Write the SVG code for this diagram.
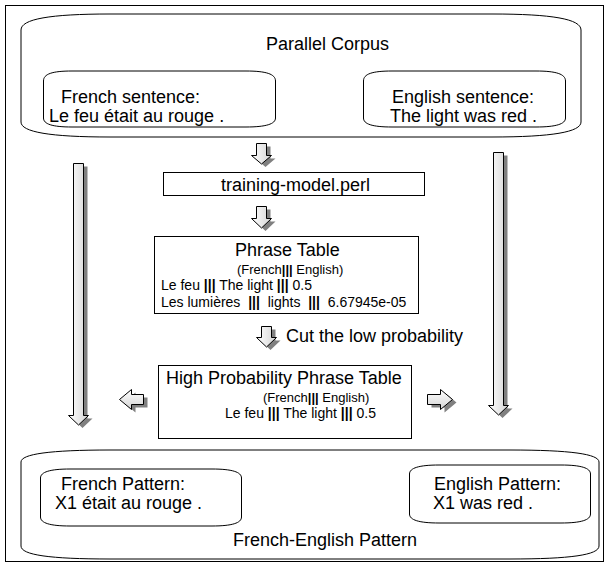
<svg xmlns="http://www.w3.org/2000/svg" width="609" height="568" viewBox="0 0 609 568">
<defs>
<linearGradient id="gv" x1="0" y1="0" x2="1" y2="0">
<stop offset="0" stop-color="#ffffff"/>
<stop offset="1" stop-color="#d4d4d4"/>
</linearGradient>
<linearGradient id="gh" x1="0" y1="0" x2="0" y2="1">
<stop offset="0" stop-color="#ffffff"/>
<stop offset="1" stop-color="#d4d4d4"/>
</linearGradient>
</defs>
<style>
text{font-family:"Liberation Sans",Arial,sans-serif;fill:#000}
.t18{font-size:18px}
.t14{font-size:14px}
.t13{font-size:13px}
.p{font-weight:bold}
.box{fill:#fff;stroke:#000;stroke-width:1}
.can{fill:none;stroke:#000;stroke-width:1}
.sh{fill:#808080;stroke:none}
.av{fill:url(#gv);stroke:#000;stroke-width:1}
.ah{fill:url(#gh);stroke:#000;stroke-width:1}
</style>
<rect x="0" y="0" width="609" height="568" fill="#fff"/>
<rect id="frame" x="5.5" y="5.5" width="598" height="556" fill="none" stroke="#000" stroke-width="1"/>

<g id="parallel-corpus">
<path class="can" d="M21,30 C21,19 50,14 110,14 L492,14 C552,14 581,19 581,30 L581,122 C581,132 552,137 492,137 L110,137 C50,137 21,132 21,122 Z"/>
<text class="t18" x="266" y="50">Parallel Corpus</text>
</g>
<g id="french-sentence">
<path class="can" d="M43.5,81 C43.5,74 52,71 72,71 L246,71 C266,71 275.5,74 275.5,81 L275.5,118 C275.5,124 266,127 246,127 L72,127 C52,127 43.5,124 43.5,118 Z"/>
<text class="t18" x="61" y="103">French sentence:</text>
<text class="t18" x="49" y="122">Le feu était au rouge .</text>
</g>
<g id="english-sentence">
<path class="can" d="M363.5,81 C363.5,74 372,71 392,71 L536,71 C556,71 565.5,74 565.5,81 L565.5,118 C565.5,124 556,127 536,127 L392,127 C372,127 363.5,124 363.5,118 Z"/>
<text class="t18" x="392" y="103">English sentence:</text>
<text class="t18" x="390" y="122">The light was red .</text>
</g>

<g id="training-model">
<rect class="box" x="163.5" y="172.5" width="261" height="23"/>
<text class="t18" x="221" y="191">training-model.perl</text>
</g>

<g id="phrase-table">
<rect class="box" x="154.5" y="236.5" width="264" height="77"/>
<text class="t18" x="235" y="256">Phrase Table</text>
<text class="t13" x="237" y="274">(French<tspan class="p">|||</tspan> English)</text>
<text class="t14" x="161" y="290">Le feu <tspan class="p">|||</tspan> The light <tspan class="p">|||</tspan> 0.5</text>
<text class="t14" x="161" y="307" xml:space="preserve">Les lumières  <tspan class="p">|||</tspan>  lights  <tspan class="p">|||</tspan>  6.67945e-05</text>
</g>

<g id="high-probability-table">
<rect class="box" x="158.5" y="365.5" width="253" height="73"/>
<text class="t18" x="166" y="384">High Probability Phrase Table</text>
<text class="t13" x="263" y="402">(French<tspan class="p">|||</tspan> English)</text>
<text class="t14" x="225" y="418">Le feu <tspan class="p">|||</tspan> The light <tspan class="p">|||</tspan> 0.5</text>
</g>

<g id="french-english-pattern">
<path class="can" d="M21,462 C21,454 50,450 110,450 L510,450 C570,450 599,454 599,462 L599,546 C599,555 570,559 510,559 L110,559 C50,559 21,555 21,546 Z"/>
<text class="t18" x="233" y="546">French-English Pattern</text>
</g>
<g id="french-pattern">
<path class="can" d="M40.5,478 C40.5,472 50,469 70,469 L212,469 C232,469 241.5,472 241.5,478 L241.5,517 C241.5,523 232,526 212,526 L70,526 C50,526 40.5,523 40.5,517 Z"/>
<text class="t18" x="61" y="490">French Pattern:</text>
<text class="t18" x="55" y="509">X1 était au rouge .</text>
</g>
<g id="english-pattern">
<path class="can" d="M409.5,474 C409.5,468 419,465 439,465 L561,465 C581,465 590.5,468 590.5,474 L590.5,514 C590.5,520 581,523 561,523 L439,523 C419,523 409.5,520 409.5,514 Z"/>
<text class="t18" x="434" y="490">English Pattern:</text>
<text class="t18" x="433" y="509">X1 was red .</text>
</g>

<g id="connectors">
<path class="sh" transform="translate(4,3)" d="M256.5,143.5 H266.5 V155.5 H271.5 L261.5,164 L251.5,155.5 H256.5 Z"/>
<path class="av" d="M256.5,143.5 H266.5 V155.5 H271.5 L261.5,164 L251.5,155.5 H256.5 Z"/>
<path class="sh" transform="translate(4,3)" d="M256.5,206.5 H266.5 V218.5 H271.5 L261.5,228 L251.5,218.5 H256.5 Z"/>
<path class="av" d="M256.5,206.5 H266.5 V218.5 H271.5 L261.5,228 L251.5,218.5 H256.5 Z"/>
<path class="sh" transform="translate(4,3)" d="M261.5,326.5 H271.5 V337.5 H276.5 L266.5,347 L256.5,337.5 H261.5 Z"/>
<path class="av" d="M261.5,326.5 H271.5 V337.5 H276.5 L266.5,347 L256.5,337.5 H261.5 Z"/>
<text class="t18" x="286" y="342">Cut the low probability</text>
<path class="sh" transform="translate(4,3)" d="M73.5,163.5 H83.5 V415.5 H88.5 L78.5,425 L68.5,415.5 H73.5 Z"/>
<path class="av" d="M73.5,163.5 H83.5 V415.5 H88.5 L78.5,425 L68.5,415.5 H73.5 Z"/>
<path class="sh" transform="translate(4,3)" d="M493.5,152.5 H503.5 V405.5 H508.5 L498.5,415 L488.5,405.5 H493.5 Z"/>
<path class="av" d="M493.5,152.5 H503.5 V405.5 H508.5 L498.5,415 L488.5,405.5 H493.5 Z"/>
<path class="sh" transform="translate(4,3)" d="M143.5,394.5 V404.5 H131.5 V409.5 L119.5,399.5 L131.5,389.5 V394.5 Z"/>
<path class="ah" d="M143.5,394.5 V404.5 H131.5 V409.5 L119.5,399.5 L131.5,389.5 V394.5 Z"/>
<path class="sh" transform="translate(4,3)" d="M427.5,394.5 V404.5 H440.5 V409.5 L452.5,399.5 L440.5,389.5 V394.5 Z"/>
<path class="ah" d="M427.5,394.5 V404.5 H440.5 V409.5 L452.5,399.5 L440.5,389.5 V394.5 Z"/>
</g>
</svg>
